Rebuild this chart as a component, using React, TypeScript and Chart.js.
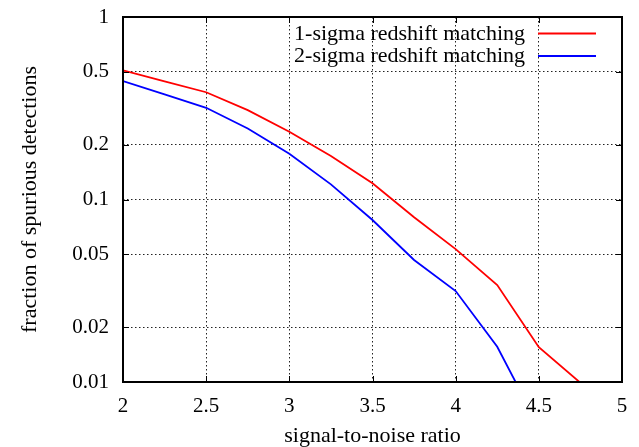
import React, { useEffect, useRef } from "react";
import { Chart, registerables } from "chart.js";

Chart.register(...registerables);

const SNR = [2, 2.25, 2.5, 2.75, 3, 3.25, 3.5, 3.75, 4, 4.25, 4.5, 4.75];
const ONE_SIGMA = [0.51, 0.444, 0.387, 0.309, 0.235, 0.173, 0.1227, 0.08, 0.0535, 0.034, 0.0155, 0.0099];
const TWO_SIGMA = [0.446, 0.377, 0.318, 0.245, 0.178, 0.121, 0.0772, 0.0466, 0.0315, 0.0156, 0.0057];
const SERIES_LABELS = ["1-sigma redshift matching", "2-sigma redshift matching"];
const SERIES_COLORS = ["#ff0000", "#0000ff"];
const Y_TICKS = [0.01, 0.02, 0.05, 0.1, 0.2, 0.5, 1];
const X_TITLE = "signal-to-noise ratio";
const Y_TITLE = "fraction of spurious detections";

const FONT = "'Liberation Serif', 'Times New Roman', serif";

const zeroPad = (s: any) => {
  s.paddingTop = 0;
  s.paddingBottom = 0;
  s.paddingLeft = 0;
  s.paddingRight = 0;
};

const framePlugin = {
  id: "frame",
  afterDatasetsDraw(chart: any) {
    const { ctx, chartArea } = chart;
    const { left, right, top, bottom } = chartArea;
    const xs = chart.scales.x;
    const ys = chart.scales.y;
    ctx.save();
    ctx.strokeStyle = "#000";
    ctx.lineWidth = 1;
    const tl = 6;
    ctx.beginPath();
    xs.ticks.forEach((t: any) => {
      const px = Math.round(xs.getPixelForValue(t.value)) + 0.5;
      ctx.moveTo(px, bottom);
      ctx.lineTo(px, bottom - tl);
      ctx.moveTo(px, top);
      ctx.lineTo(px, top + tl);
    });
    ys.ticks.forEach((t: any) => {
      const py = Math.round(ys.getPixelForValue(t.value)) + 0.5;
      ctx.moveTo(left, py);
      ctx.lineTo(left + tl, py);
      ctx.moveTo(right, py);
      ctx.lineTo(right - tl, py);
    });
    ctx.stroke();
    ctx.lineWidth = 2;
    ctx.strokeRect(left, top, right - left, bottom - top);

    // legend (top right, text left of sample line)
    ctx.font = `22px ${FONT}`;
    ctx.textAlign = "right";
    ctx.textBaseline = "middle";
    chart.data.datasets.forEach((ds: any, i: number) => {
      const y = 34 + i * 22.5;
      ctx.fillStyle = "#000";
      ctx.fillText(ds.label, 525, y);
      ctx.strokeStyle = ds.borderColor;
      ctx.lineWidth = 2;
      ctx.beginPath();
      ctx.moveTo(538, y - 0.5);
      ctx.lineTo(596, y - 0.5);
      ctx.stroke();
    });
    ctx.restore();
  },
};

export default function App() {
  const ref = useRef<HTMLCanvasElement | null>(null);
  useEffect(() => {
    if (!ref.current) return;
    Chart.defaults.font.family = FONT;
    Chart.defaults.color = "#000";
    const series = [ONE_SIGMA, TWO_SIGMA];
    const chart = new Chart(ref.current, {
      type: "line",
      data: {
        datasets: series.map((vals, i) => ({
          label: SERIES_LABELS[i],
          data: vals.map((v, j) => ({ x: SNR[j], y: v })),
          borderColor: SERIES_COLORS[i],
          backgroundColor: SERIES_COLORS[i],
          borderWidth: 1.8,
          pointRadius: 0,
          tension: 0,
          fill: false,
        })),
      },
      options: {
        animation: false,
        responsive: false,
        layout: { padding: { top: 17, right: 17, left: 0, bottom: 0 } },
        plugins: { legend: { display: false }, tooltip: { enabled: false } },
        scales: {
          x: {
            type: "linear",
            min: 2,
            max: 5,
            afterFit: (s: any) => {
              s.height = 65;
              zeroPad(s);
            },
            ticks: {
              stepSize: 0.5,
              padding: 12,
              font: { size: 21, family: FONT },
              color: "#000",
              maxRotation: 0,
              callback: (v: any) => String(v),
            },
            grid: { color: "#222", lineWidth: 1, drawTicks: false },
            border: { display: false, dash: [1.5, 2.5] },
            title: {
              display: true,
              text: X_TITLE,
              font: { size: 22, family: FONT, lineHeight: 1 },
              color: "#000",
              padding: { top: 0, bottom: 0 },
            },
          },
          y: {
            type: "logarithmic",
            min: 0.01,
            max: 1,
            afterFit: (s: any) => {
              s.width = 123;
              zeroPad(s);
            },
            afterBuildTicks: (s: any) => {
              s.ticks = Y_TICKS.map((v) => ({ value: v }));
            },
            ticks: {
              padding: 14,
              font: { size: 21, family: FONT },
              color: "#000",
              callback: (v: any) => String(v),
            },
            grid: { color: "#222", lineWidth: 1, drawTicks: false },
            border: { display: false, dash: [1.5, 2.5] },
            title: {
              display: true,
              text: Y_TITLE,
              font: { size: 22, family: FONT, lineHeight: 1 },
              color: "#000",
              padding: { top: 19, bottom: 0 },
            },
          },
        },
      },
      plugins: [framePlugin],
    } as any);
    return () => chart.destroy();
  }, []);
  return (
    <div style={{ position: "absolute", left: 0, top: 0, width: 639, height: 447, background: "#fff" }}>
      <canvas ref={ref} width={639} height={447} style={{ width: 639, height: 447, display: "block" }} />
    </div>
  );
}
